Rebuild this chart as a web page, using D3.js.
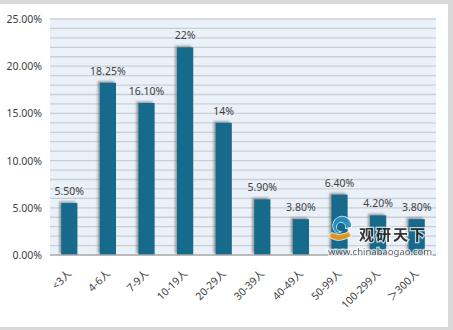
<!DOCTYPE html>
<html><head><meta charset="utf-8">
<script src="https://cdn.jsdelivr.net/npm/d3@7"></script>
<style>
html,body{margin:0;padding:0;background:#fff;}
text{font-family:"Noto Sans","Noto Sans CJK SC",sans-serif;}
</style></head>
<body>
<svg id="c" width="453" height="330"></svg>
<script>
const categories = ["<3人","4-6人","7-9人","10-19人","20-29人","30-39人","40-49人","50-99人","100-299人","＞300人"];
const values = [5.5, 18.25, 16.1, 22, 14, 5.9, 3.8, 6.4, 4.2, 3.8];
const valueLabels = ["5.50%","18.25%","16.10%","22%","14%","5.90%","3.80%","6.40%","4.20%","3.80%"];
const yTicks = [0,5,10,15,20,25];
const gridValues = d3.range(1,26);

const svg = d3.select("#c");
// outer frame
svg.append("rect").attr("x",0).attr("y",0).attr("width",453).attr("height",330).attr("fill","#d9d9d9");
svg.append("rect").attr("x",0).attr("y",4).attr("width",448).attr("height",323).attr("fill","#fff");

const L=50,R=436,T=19,B=255;
const x = d3.scaleBand().domain(categories).range([L,R]).paddingInner(0.58).paddingOuter(0.29);
const y = d3.scaleLinear().domain([0,25]).range([B,T]);

const defs = svg.append("defs");
const f = defs.append("filter").attr("id","sh").attr("x","-50%").attr("y","-20%").attr("width","200%").attr("height","140%");
f.append("feDropShadow").attr("dx",-2).attr("dy",-1.5).attr("stdDeviation",1.3).attr("flood-color","#555").attr("flood-opacity",0.55);

svg.append("rect").attr("x",L).attr("y",T).attr("width",R-L).attr("height",B-T).attr("fill","#eaf1f8");
svg.append("g").selectAll("line").data(gridValues).join("line")
  .attr("x1",L).attr("x2",R).attr("y1",d=>y(d)).attr("y2",d=>y(d))
  .attr("stroke","#cbcfd4").attr("stroke-width",1.3);

svg.append("g").selectAll("rect").data(values).join("rect")
  .attr("x",(d,i)=>x(categories[i])).attr("width",x.bandwidth())
  .attr("y",d=>y(d)).attr("height",d=>B-y(d))
  .attr("fill","#156a8c").attr("filter","url(#sh)");

// baseline
svg.append("line").attr("x1",L).attr("x2",R).attr("y1",B).attr("y2",B).attr("stroke","#a6a6a6").attr("stroke-width",1.5);

svg.append("g").selectAll("text").data(values).join("text")
  .attr("x",(d,i)=>x(categories[i])+x.bandwidth()/2).attr("y",d=>y(d)-8)
  .attr("text-anchor","middle").attr("font-size",10.5).attr("fill","#404040")
  .text((d,i)=>valueLabels[i]);

svg.append("g").selectAll("text").data(yTicks).join("text")
  .attr("x",42).attr("y",d=>y(d)+4).attr("text-anchor","end")
  .attr("font-size",10.5).attr("fill","#404040")
  .text(d=>d.toFixed(2)+"%");

svg.append("g").selectAll("text").data(categories).join("text")
  .attr("transform",d=>`translate(${x(d)+x.bandwidth()/2+3},${B+19}) rotate(-45)`)
  .attr("text-anchor","end").attr("font-size",10.5).attr("fill","#404040")
  .text(d=>d);

// watermark
const wm = svg.append("g").attr("opacity",0.9);
wm.append("path").attr("d","M337,233 a9,9 0 1,1 14,-6 l-5,1 a5,5 0 1,0 -6,4 z").attr("fill","#2b8fc4").attr("stroke","#fff").attr("stroke-width",1.5).attr("paint-order","stroke");
wm.append("path").attr("d","M329,236 q8,8 22,0 l-2,-4 q-9,5 -17,1 z").attr("fill","#f39a1e").attr("stroke","#fff").attr("stroke-width",1.5).attr("paint-order","stroke");
wm.append("text").attr("x",359).attr("y",240).attr("font-size",15).attr("font-weight","bold").attr("fill","#222")
  .attr("font-family","Noto Sans CJK SC").attr("letter-spacing",2)
  .attr("stroke","#fff").attr("stroke-width",2.5).attr("stroke-opacity",0.8).attr("paint-order","stroke").text("观研天下");
wm.append("text").attr("x",328).attr("y",255).attr("font-size",9.5).attr("fill","#555")
  .attr("stroke","#fff").attr("stroke-width",2.5).attr("stroke-opacity",0.8).attr("paint-order","stroke").text("www.chinabaogao.com");
</script>
</body></html>
